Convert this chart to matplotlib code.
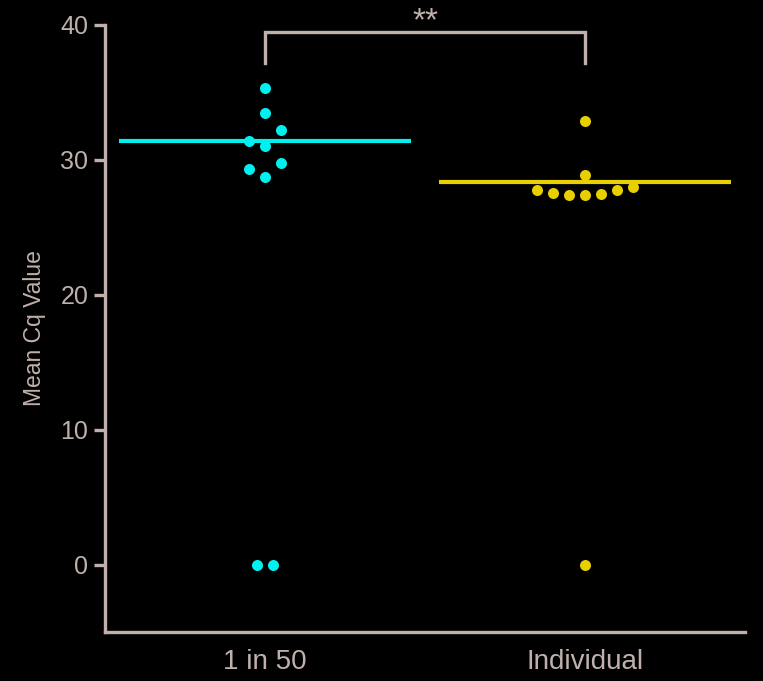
import numpy as np
import matplotlib
matplotlib.use("Agg")
import matplotlib.pyplot as plt

# values
groups = ["1 in 50", "Individual"]
pooled = [35.3, 33.5, 32.2, 31.4, 31.05, 29.8, 29.3, 28.7, 0.0, 0.0]
individual = [32.9, 28.9, 27.73, 27.58, 27.43, 27.36, 27.5, 27.73, 28.02, 0.0]
colors = ["#00f0f0", "#e8cf00"]
axis_col = "#c0b0ac"

plt.rcParams["font.family"] = ["Liberation Sans", "DejaVu Sans"]


def row_offsets(vals, row_h=1.2):
    # prism-like scatter: group close values into rows, fill centre then out
    vals = np.asarray(vals)
    order = np.argsort(vals, kind="stable")
    offs = np.zeros(len(vals))
    rows, cur = [], [order[0]]
    for idx in order[1:]:
        if vals[idx] - vals[cur[0]] > row_h:
            rows.append(cur)
            cur = [idx]
        else:
            cur.append(idx)
    rows.append(cur)
    for r in rows:
        n = len(r)
        if n % 2:
            seq = [0] + [s * k for k in range(1, n) for s in (-1, 1)]
        else:
            seq = [s * (k + 0.5) for k in range(n) for s in (-1, 1)]
        for idx, o in zip(r, seq[:n]):
            offs[idx] = o
    return offs


fig = plt.figure(figsize=(7.63, 6.81), dpi=100, facecolor="black")
ax = fig.add_axes([0.1376, 0.072, 0.8388, 0.8913])
ax.set_facecolor("black")
ax.set_xlim(-0.5, 1.5)
ax.set_ylim(-5, 40)

# 16 px between neighbouring dots, in data units
step = 16 / (ax.get_position().width * fig.get_figwidth() * fig.dpi / 2.0)

for i, vals in enumerate([pooled, individual]):
    v = np.array(vals)
    ax.scatter(i + row_offsets(v) * step, v, s=63, color=colors[i],
               linewidths=0, zorder=3)
    m = v[v > 0].mean()  # zeros are non-detects, left out of the mean
    ax.hlines(m, i - 0.455, i + 0.455, color=colors[i], lw=3, zorder=2)

# significance bracket
ax.plot([0, 0, 1, 1], [37.2, 39.5, 39.5, 37.2], color=axis_col, lw=2.4,
        clip_on=False, solid_joinstyle="miter")
ax.text(0.5, 39.6, "**", ha="center", va="baseline", color=axis_col,
        fontsize=24, clip_on=False)

ax.set_xticks([0, 1])
ax.set_xticklabels(groups)
ax.set_yticks([0, 10, 20, 30, 40])
ax.set_ylabel("Mean Cq Value", color=axis_col, fontsize=16.5, labelpad=10)

for s in ["top", "right"]:
    ax.spines[s].set_visible(False)
for s in ["left", "bottom"]:
    ax.spines[s].set_color(axis_col)
    ax.spines[s].set_linewidth(2.4)

ax.tick_params(axis="y", colors=axis_col, labelsize=18, length=8, width=2.4, pad=4)
ax.tick_params(axis="x", colors=axis_col, labelsize=20, length=0, pad=12)

fig.savefig("out.png", dpi=100, facecolor="black")
